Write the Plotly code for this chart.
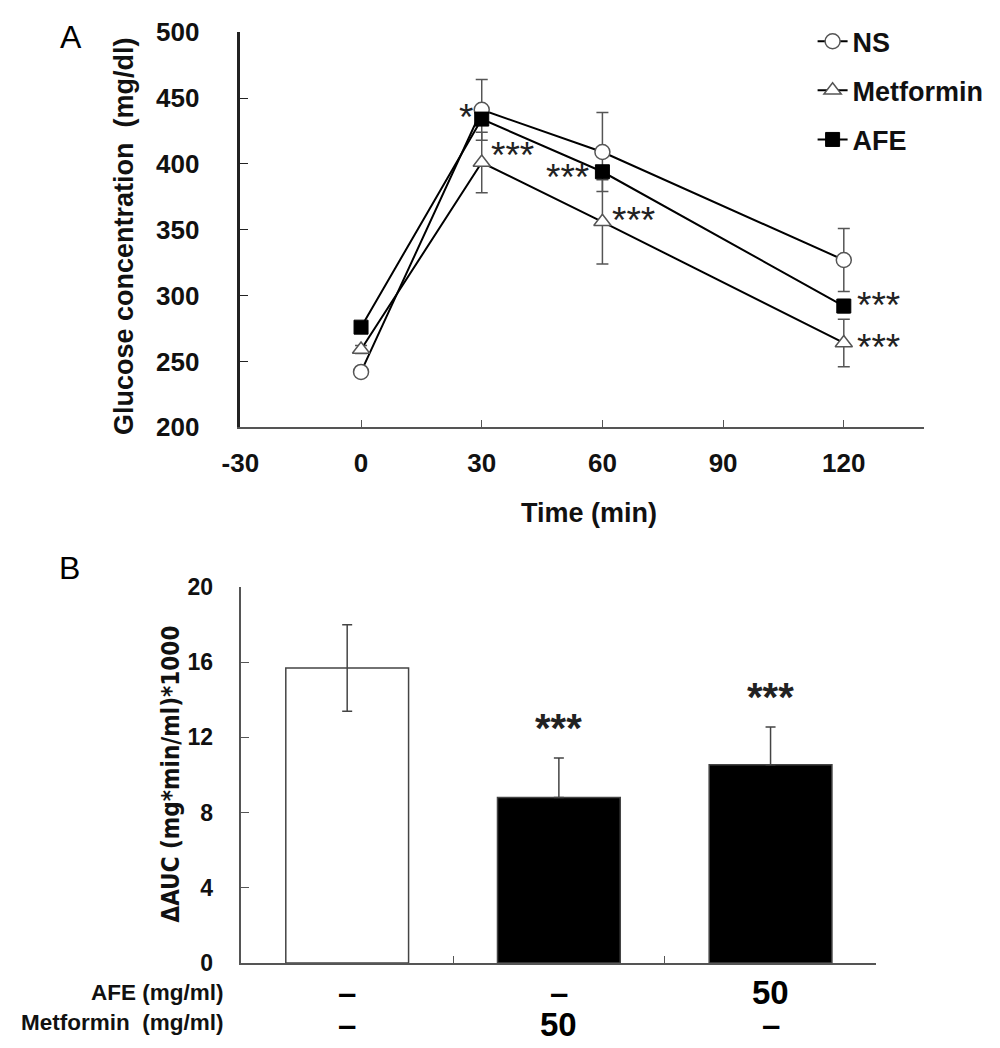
import plotly.graph_objects as go

# Panel A: glucose tolerance time course
time = [0, 30, 60, 120]
ns = [242, 441, 409, 327]
ns_err = [3, 23, 30, 24]
met = [259, 401, 356, 264]
met_err = [3, 23, 32, 18]
afe = [276, 434, 394, 292]
afe_err = [3, 4, 4, 5]
time_ticks = [-30, 0, 30, 60, 90, 120]
time_ticktext = ["-30", "0", "30", "60", "90", "120"]

# Panel B: delta AUC
groups = [0, 1, 2]
auc = [15.7, 8.8, 10.55]
auc_err = [2.3, 2.1, 2.0]
auc_err_minus = [2.3, 0, 0]  # lower bars hidden inside the black bars
afe_dose = ["–", "–", "50"]
met_dose = ["–", "50", "–"]

W, H = 1000, 1048
# the page shows the figure slightly shifted and shrunk; these undo that
AX, AY = 23, 22.5
SX, SY = 0.984, 0.972
ARIAL = "Liberation Sans, Arial, sans-serif"
NARROW = "Liberation Sans Narrow, DejaVu Sans Condensed, Liberation Sans, sans-serif"


def px(x):
    return min(1.0, max(0.0, (x - AX) / SX / W))


def py(y):
    return min(1.0, max(0.0, 1 - (y - AY) / SY / H))


fig = go.Figure()

err_style = dict(type="data", color="#555", thickness=1.5, width=6)

fig.add_trace(go.Scatter(
    x=time, y=ns, name="NS", mode="lines+markers", legendgroup="ns",
    line=dict(color="black", width=2),
    marker=dict(symbol="circle", size=15, color="white", line=dict(color="#555", width=1.5)),
    error_y=dict(array=ns_err, **err_style),
))
fig.add_trace(go.Scatter(
    x=time, y=met, name="Metformin", mode="lines+markers", legendgroup="met",
    line=dict(color="black", width=2),
    marker=dict(symbol="triangle-up", size=15, color="white", line=dict(color="#555", width=1.5)),
    error_y=dict(array=met_err, **err_style),
))
fig.add_trace(go.Scatter(
    x=time, y=afe, name="AFE", mode="lines+markers", legendgroup="afe",
    line=dict(color="black", width=2),
    marker=dict(symbol="square", size=14, color="black", line=dict(color="black", width=1)),
    error_y=dict(array=afe_err, **err_style),
))

fig.add_trace(go.Bar(
    x=groups, y=auc, width=0.58, xaxis="x2", yaxis="y2", showlegend=False,
    marker=dict(color=["white", "black", "black"], line=dict(color="#444", width=1.5)),
    error_y=dict(type="data", symmetric=False, array=auc_err, arrayminus=auc_err_minus,
                 color="#444", thickness=1.5, width=5),
))

ann = []

# significance stars, panel A
star_a = dict(font=dict(family=ARIAL, size=37, color="#222"), showarrow=False,
              xref="x", yref="y", yanchor="middle")
ann.append(dict(x=30, y=afe[1], text="*", xanchor="right", xshift=-7, yshift=2, **star_a))
ann.append(dict(x=30, y=met[1], text="***", xanchor="left", xshift=7, yshift=7, **star_a))
ann.append(dict(x=60, y=afe[2], text="***", xanchor="right", xshift=-11, yshift=-6, **star_a))
ann.append(dict(x=60, y=met[2], text="***", xanchor="left", xshift=8, yshift=1, **star_a))
ann.append(dict(x=120, y=afe[3], text="***", xanchor="left", xshift=11, yshift=1, **star_a))
ann.append(dict(x=120, y=met[3], text="***", xanchor="left", xshift=11, yshift=-5, **star_a))

# significance stars, panel B
for i in [1, 2]:
    ann.append(dict(x=groups[i], y=auc[i] + auc_err[i], text="***", xref="x2", yref="y2",
                    showarrow=False, xanchor="center", yanchor="middle", yshift=30,
                    font=dict(family=ARIAL, size=40, color="#222", weight="bold")))

# dose rows under panel B
dose_font = dict(family=ARIAL, size=33, color="black", weight="bold")
for i in groups:
    ann.append(dict(x=groups[i], y=py(993), text=afe_dose[i], xref="x2", yref="paper",
                    xanchor="center", yanchor="middle", showarrow=False, font=dose_font))
    ann.append(dict(x=groups[i], y=py(1025), text=met_dose[i], xref="x2", yref="paper",
                    xanchor="center", yanchor="middle", showarrow=False, font=dose_font))

label_font = dict(family=ARIAL, size=22.5, color="#111", weight="bold")
ann.append(dict(x=px(223), y=py(993), text="AFE (mg/ml)", xref="paper", yref="paper",
                xanchor="right", yanchor="middle", showarrow=False, font=label_font))
ann.append(dict(x=px(223), y=py(1023), text="Metformin  (mg/ml)", xref="paper", yref="paper",
                xanchor="right", yanchor="middle", showarrow=False, font=label_font))

# axis titles
ann.append(dict(x=px(121), y=py(236), text="Glucose concentration  (mg/dl)", textangle=-90,
                xref="paper", yref="paper", xanchor="center", yanchor="middle", showarrow=False,
                font=dict(family=ARIAL, size=27, color="#111", weight="bold")))
ann.append(dict(x=px(587), y=py(513), text="Time (min)", xref="paper", yref="paper",
                xanchor="center", yanchor="middle", showarrow=False,
                font=dict(family=ARIAL, size=27, color="#111", weight="bold")))
ann.append(dict(x=px(167), y=py(774), text="ΔAUC (mg*min/ml)*1000", textangle=-90,
                xref="paper", yref="paper", xanchor="center", yanchor="middle", showarrow=False,
                font=dict(family=NARROW, size=24, color="#111", weight="bold")))

# panel letters
ann.append(dict(x=px(67), y=1.0, text="A", xref="paper", yref="paper", showarrow=False,
                xanchor="center", yanchor="top", yshift=6,
                font=dict(family=ARIAL, size=32, color="black")))
ann.append(dict(x=px(66), y=py(568), text="B", xref="paper", yref="paper", showarrow=False,
                xanchor="center", yanchor="middle", font=dict(family=ARIAL, size=32, color="black")))

tick_a = dict(family=ARIAL, size=26, color="#111", weight="bold")
tick_b = dict(family=ARIAL, size=23, color="#111", weight="bold")

fig.update_layout(
    width=W, height=H,
    margin=dict(l=0, r=0, t=0, b=0),
    paper_bgcolor="white", plot_bgcolor="white",
    showlegend=True,
    legend=dict(x=px(811), y=1.0057, xanchor="left", yanchor="top",
                font=dict(family=ARIAL, size=27, color="#111", weight="bold"),
                traceorder="grouped", tracegroupgap=11, bgcolor="rgba(0,0,0,0)"),
    xaxis=dict(domain=[px(237), px(923)], range=[-30, 140],
               tickvals=time_ticks, ticktext=time_ticktext,
               ticks="inside", ticklen=7, tickcolor="#555", showline=True, linecolor="#555",
               linewidth=1.5, showgrid=False, zeroline=False, tickfont=tick_a,
               ticklabelstandoff=12, anchor="y"),
    yaxis=dict(domain=[py(427), 0.991], range=[200, 500], dtick=50,
               ticks="inside", ticklen=8, tickcolor="#222", showline=True, linecolor="#222",
               linewidth=2.5, showgrid=False, zeroline=False, tickfont=tick_a,
               ticklabelstandoff=33, anchor="x"),
    xaxis2=dict(domain=[px(238), px(875)], range=[-0.5, 2.5], tickvals=[0.5, 1.5, 2.5],
                ticks="inside", ticklen=7, tickcolor="#555", showline=True, linecolor="#555",
                linewidth=1.5, showgrid=False, zeroline=False, showticklabels=False,
                anchor="y2"),
    yaxis2=dict(domain=[py(963), py(587)], range=[0, 20], dtick=4,
                ticks="inside", ticklen=8, tickcolor="#555", showline=True, linecolor="#555",
                linewidth=1.5, showgrid=False, zeroline=False, tickfont=tick_b,
                ticklabelstandoff=22, anchor="x2"),
    annotations=ann,
)

fig.write_html("out.html")
